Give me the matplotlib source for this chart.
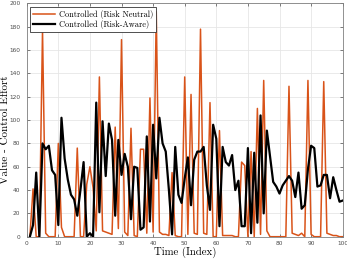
import numpy as np
import matplotlib
matplotlib.use("Agg")
import matplotlib.pyplot as plt

# dane (indeks 1..100)
czas = list(range(1, 101))
neutral = [0, 41, 0, 0, 177, 3, 0, 0, 0, 80,
           8, 0, 0, 0, 0, 76, 0, 0, 45, 60,
           42, 5, 137, 5, 4, 3, 2, 94, 7, 169,
           4, 1, 93, 1, 0, 75, 75, 3, 119, 4,
           193, 4, 2, 2, 1, 55, 1, 0, 0, 137,
           2, 122, 3, 2, 178, 3, 2, 115, 0, 0,
           91, 1, 1, 1, 1, 0, 0, 64, 61, 0,
           73, 0, 110, 2, 134, 5, 0, 0, 0, 0,
           0, 0, 129, 3, 2, 1, 3, 0, 134, 2,
           0, 0, 0, 133, 3, 2, 1, 1, 0, 0]
aware = [0, 10, 55, 0, 80, 75, 78, 57, 53, 10,
         102, 67, 49, 36, 32, 18, 40, 64, 0, 3,
         0, 115, 21, 99, 52, 97, 83, 18, 83, 53,
         71, 60, 15, 60, 59, 6, 8, 86, 13, 96,
         50, 102, 80, 73, 40, 2, 77, 36, 29, 50,
         68, 27, 66, 73, 73, 77, 44, 23, 96, 84,
         9, 77, 64, 61, 70, 40, 48, 9, 9, 76,
         3, 72, 12, 104, 20, 91, 69, 47, 43, 37,
         44, 48, 52, 48, 34, 55, 24, 27, 58, 78,
         76, 43, 44, 53, 53, 33, 51, 40, 30, 31]
xticki = list(range(0, 101, 10))
yticki = list(range(0, 201, 20))

szary = "#4d4d4d"

fig = plt.figure(figsize=(3.47, 2.60), dpi=100)
ax = fig.add_axes([0.077, 0.0896, 0.9106, 0.897])

ax.plot(czas, neutral, color="#D95319", lw=1.1, label="Controlled (Risk Neutral)")
ax.plot(czas, aware, color="black", lw=1.6, label="Controlled (Risk-Aware)")

ax.set_xlim(0, 100)
ax.set_ylim(0, 200)
ax.set_xticks(xticki)
ax.set_yticks(yticki)
ax.grid(True, color="#e6e6e6", lw=0.6)
ax.set_axisbelow(True)
ax.tick_params(direction="in", length=2.5, width=0.5, colors=szary,
               labelsize=4.2, top=True, right=True)
ax.tick_params(axis="y", pad=4.5)
ax.tick_params(axis="x", pad=3)
for s in ax.spines.values():
    s.set_color("#808080")
    s.set_linewidth(0.6)

ax.set_xlabel("Time (Index)", family="cmr10", fontsize=7.8, labelpad=0.5)
ax.set_ylabel("Value - Control Effort", family="cmr10", fontsize=8)
ax.yaxis.set_label_coords(-0.053, 0.458)

leg = ax.legend(loc="upper left", prop={"family": "cmr10", "size": 6},
                fancybox=False, edgecolor="#333333", framealpha=1,
                borderpad=0.3, labelspacing=0.2, handlelength=2.6,
                handletextpad=0.5, borderaxespad=0.45)
leg.get_frame().set_linewidth(0.6)

fig.savefig("out.png", dpi=100)
